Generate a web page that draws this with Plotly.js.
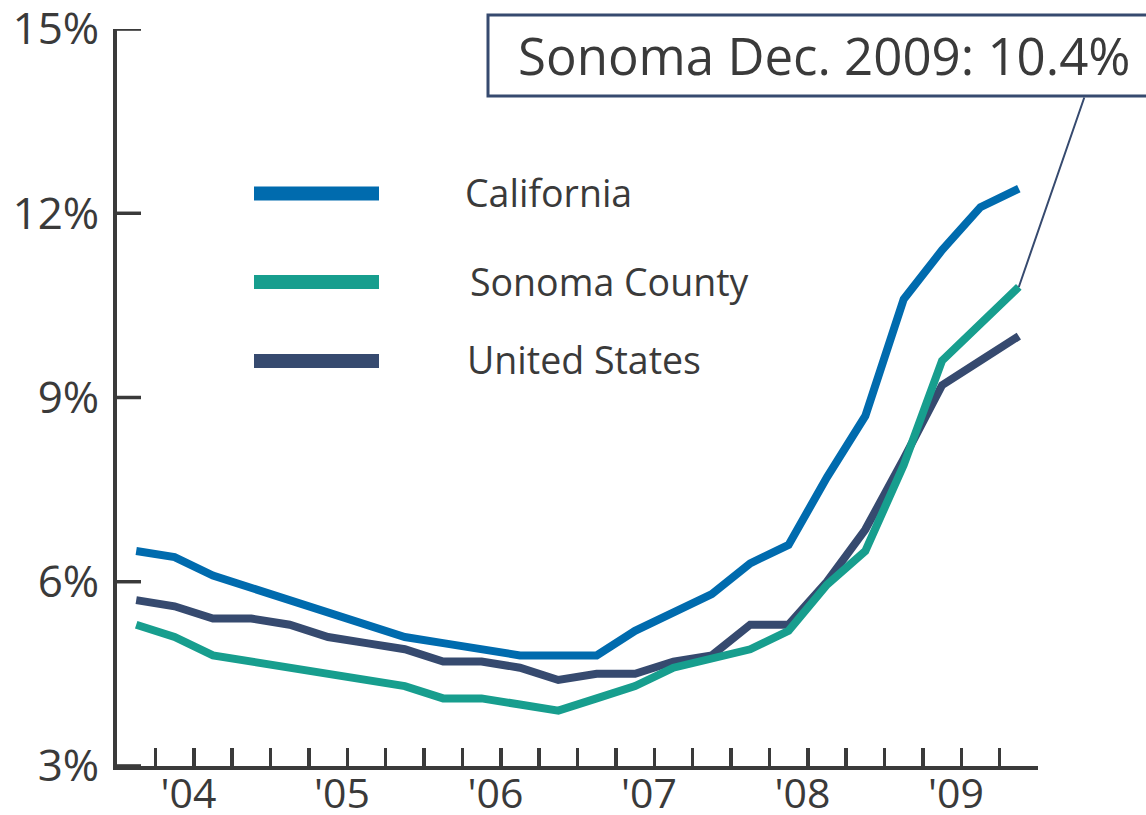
<!DOCTYPE html>
<html>
<head>
<meta charset="utf-8">
<script src="https://cdn.plot.ly/plotly-3.0.1.min.js"></script>
<style>html,body{margin:0;padding:0;background:#fff;}#chart{width:1146px;height:815px;}</style>
</head>
<body>
<div id="chart"></div>
<script>
// Quarterly unemployment rates (%), Q1 2004 .. Q4 2009
const quarters = ['2004 Q1','2004 Q2','2004 Q3','2004 Q4','2005 Q1','2005 Q2','2005 Q3','2005 Q4',
  '2006 Q1','2006 Q2','2006 Q3','2006 Q4','2007 Q1','2007 Q2','2007 Q3','2007 Q4',
  '2008 Q1','2008 Q2','2008 Q3','2008 Q4','2009 Q1','2009 Q2','2009 Q3','2009 Q4'];
const california   = [6.5, 6.4, 6.1, 5.9, 5.7, 5.5, 5.3, 5.1, 5.0, 4.9, 4.8, 4.8, 4.8, 5.2, 5.5, 5.8, 6.3, 6.6, 7.7, 8.7, 10.6, 11.4, 12.1, 12.4];
const sonomaCounty = [5.3, 5.1, 4.8, 4.7, 4.6, 4.5, 4.4, 4.3, 4.1, 4.1, 4.0, 3.9, 4.1, 4.3, 4.6, 4.75, 4.9, 5.2, 5.95, 6.5, 7.9, 9.6, 10.2, 10.8];
const unitedStates = [5.7, 5.6, 5.4, 5.4, 5.3, 5.1, 5.0, 4.9, 4.7, 4.7, 4.6, 4.4, 4.5, 4.5, 4.7, 4.8, 5.3, 5.3, 6.0, 6.85, 8.0, 9.2, 9.6, 10.0];
const yearLabels = ["'04", "'05", "'06", "'07", "'08", "'09"];
const yTickValues = [3, 6, 9, 12, 15];
const seriesNames = ['California', 'Sonoma County', 'United States'];
const annotationText = 'Sonoma Dec. 2009: 10.4%';

const colors = {California: '#006BAE', 'Sonoma County': '#179E8E', 'United States': '#364A6F'};
const textColor = '#3a3a3a';
const axisColor = '#3a3a3a';
const FONT = '"Open Sans", "Noto Sans", sans-serif';

const xIdx = quarters.map((_, i) => i);

// tick marks at quarter boundaries; year label on the boundary at the middle of each year
const tickVals = [], tickText = [];
for (let i = 0; i < quarters.length; i++) {
  tickVals.push(i + 0.5);
  tickText.push(i % 4 === 1 ? yearLabels[(i - 1) / 4] + '\u00a0' : '');
}

const traces = [
  {x: xIdx, y: unitedStates, name: 'United States', type: 'scatter', mode: 'lines',
   line: {color: colors['United States'], width: 8}},
  {x: xIdx, y: california, name: 'California', type: 'scatter', mode: 'lines',
   line: {color: colors['California'], width: 8}},
  {x: xIdx, y: sonomaCounty, name: 'Sonoma County', type: 'scatter', mode: 'lines',
   line: {color: colors['Sonoma County'], width: 8}}
];

const plotL = 117, plotR = 1038, plotT = 29, plotB = 766;
const px = v => (v - plotL) / (plotR - plotL);
const py = v => (plotB - v) / (plotB - plotT);
const legendRows = [193.5, 282, 361];
const legendTextX = [463, 468, 465];

const shapes = [];
const annotations = [];

// inside y tick marks (drawn at the y tick values)
yTickValues.forEach(v => {
  shapes.push({type: 'line', xref: 'paper', yref: 'y', x0: 0, x1: 24 / (plotR - plotL), y0: v, y1: v,
    line: {color: axisColor, width: 3.5}});
});

// legend drawn manually
seriesNames.forEach((n, i) => {
  shapes.push({type: 'line', xref: 'paper', yref: 'paper',
    x0: px(254), x1: px(379), y0: py(legendRows[i]), y1: py(legendRows[i]),
    line: {color: colors[n], width: 14}});
  annotations.push({xref: 'paper', yref: 'paper', x: px(legendTextX[i]), y: py(legendRows[i] - 1),
    xanchor: 'left', yanchor: 'middle', showarrow: false, text: n,
    font: {family: FONT, size: 37.5, color: textColor}});
});

// callout box
shapes.push({type: 'rect', xref: 'paper', yref: 'paper',
  x0: px(488), x1: px(1170), y0: py(96), y1: py(15),
  line: {color: '#364A6F', width: 3}, fillcolor: 'rgba(255,255,255,0)'});
annotations.push({xref: 'paper', yref: 'paper', x: px(516), y: py(55),
  xanchor: 'left', yanchor: 'middle', showarrow: false, text: annotationText,
  font: {family: FONT, size: 51, color: textColor}});
// leader line from last Sonoma point up to the box
annotations.push({x: xIdx[xIdx.length - 1], y: sonomaCounty[sonomaCounty.length - 1],
  xref: 'x', yref: 'y', text: '', showarrow: true, arrowhead: 0, arrowwidth: 2,
  arrowcolor: '#364A6F', ax: 66, ay: -191, standoff: 0, startstandoff: 0});

const layout = {
  width: 1146, height: 815,
  margin: {l: plotL, r: 1146 - plotR, t: plotT, b: 815 - plotB, pad: 0},
  paper_bgcolor: '#ffffff', plot_bgcolor: '#ffffff',
  showlegend: false,
  font: {family: FONT, color: textColor},
  xaxis: {
    range: [-0.5, quarters.length - 0.5],
    tickmode: 'array', tickvals: tickVals, ticktext: tickText,
    ticks: 'inside', ticklen: 18, tickwidth: 3.5, tickcolor: axisColor,
    showline: true, linecolor: axisColor, linewidth: 4,
    showgrid: false, zeroline: false,
    tickfont: {family: FONT, size: 41, color: textColor},
    ticklabelstandoff: -11, ticklabeloverflow: 'allow'
  },
  yaxis: {
    range: [2.999, 15.001],
    tickmode: 'array', tickvals: yTickValues, ticktext: yTickValues.map(v => v + '%'),
    ticks: 'inside', ticklen: 24, tickwidth: 3.5, tickcolor: axisColor,
    showline: true, linecolor: axisColor, linewidth: 4,
    showgrid: false, zeroline: false,
    tickfont: {family: FONT, size: 44, color: textColor},
    ticklabelstandoff: 5, ticklabeloverflow: 'allow'
  },
  shapes: shapes,
  annotations: annotations
};

Plotly.newPlot('chart', traces, layout, {displayModeBar: false, staticPlot: true});
</script>
</body>
</html>
